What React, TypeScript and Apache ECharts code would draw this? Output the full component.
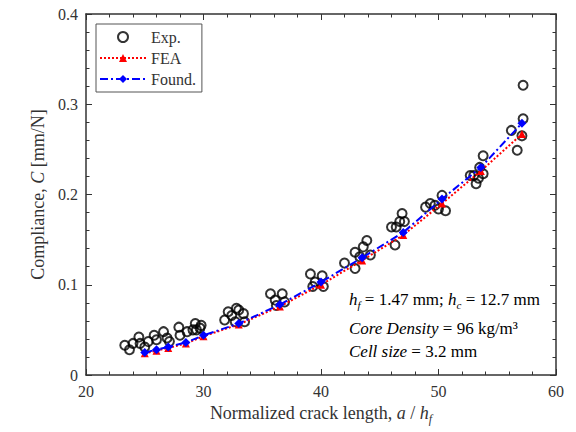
import React, { useEffect, useRef } from "react";
import * as echarts from "echarts";

// Experimental data: normalized crack length a/hf and compliance C [mm/N]
const expA = [
  23.3, 23.7, 24.0, 24.5, 24.6, 25.0, 25.3, 25.8, 26.0, 26.6, 26.9, 27.1, 27.9, 28.0, 28.6, 29.1, 29.3, 29.7, 29.4, 29.8,
  31.8, 32.1, 32.4, 32.7, 32.8, 33.4, 33.5, 33.0,
  35.7, 36.1, 36.2, 36.7, 36.9,
  39.1, 39.3, 39.5, 40.1, 40.2,
  42.0, 42.9, 42.9, 43.3, 43.6, 43.9, 44.2,
  46.0, 46.3, 46.4, 46.7, 46.9, 47.1,
  48.9, 49.3, 49.7, 50.0, 50.3, 50.6,
  52.7, 53.0, 53.2, 53.4, 53.5, 53.8, 53.8,
  56.2, 56.7, 57.1, 57.2, 57.2,
];
const expC = [
  0.033, 0.028, 0.035, 0.042, 0.035, 0.031, 0.037, 0.044, 0.039, 0.048, 0.041, 0.037, 0.053, 0.044, 0.048, 0.05, 0.057, 0.052, 0.05, 0.055,
  0.061, 0.07, 0.066, 0.059, 0.074, 0.068, 0.059, 0.072,
  0.09, 0.083, 0.077, 0.09, 0.081,
  0.112, 0.098, 0.103, 0.11, 0.098,
  0.124, 0.118, 0.136, 0.131, 0.142, 0.149, 0.133,
  0.164, 0.144, 0.164, 0.17, 0.179, 0.17,
  0.186, 0.19, 0.188, 0.184, 0.199, 0.182,
  0.221, 0.221, 0.212, 0.218, 0.23, 0.223, 0.243,
  0.271, 0.249, 0.265, 0.284, 0.321,
];

// FEA predictions
const feaA = [25.0, 26.0, 27.0, 28.5, 30.0, 33.0, 36.5, 40.0, 43.5, 47.0, 50.3, 53.6, 57.1];
const feaC = [0.024, 0.027, 0.03, 0.035, 0.043, 0.056, 0.076, 0.1, 0.127, 0.155, 0.19, 0.226, 0.267];

// Foundation model predictions
const fndA = [25.0, 26.0, 27.0, 28.5, 30.0, 33.0, 36.5, 40.0, 43.5, 47.0, 50.3, 53.6, 57.1];
const fndC = [0.025, 0.028, 0.031, 0.036, 0.044, 0.057, 0.078, 0.103, 0.13, 0.158, 0.195, 0.23, 0.279];

const xTicks = [20, 30, 40, 50, 60];
const yTicks = [0, 0.1, 0.2, 0.3, 0.4];

const FONT = "Liberation Serif";
const AX = "#333";

export default function App() {
  const ref = useRef<HTMLDivElement>(null);
  useEffect(() => {
    if (!ref.current) return;
    const chart = echarts.init(ref.current, null, { renderer: "svg" });
    const pair = (a: number[], c: number[]) => a.map((v, i) => [v, c[i]]);

    const tickCommon = {
      axisLine: { onZero: false, lineStyle: { color: AX, width: 1.5 } },
      axisTick: { inside: true, length: 6, lineStyle: { color: AX, width: 1 } },
      minorTick: { show: true, splitNumber: 5, length: 3.5, lineStyle: { color: AX, width: 1 } },
      splitLine: { show: false },
      minorSplitLine: { show: false },
    };

    const xMin = xTicks[0], xMax = xTicks[xTicks.length - 1];
    const yMin = yTicks[0], yMax = yTicks[yTicks.length - 1];

    const normal = { fontFamily: FONT, fontSize: 18, color: AX, lineHeight: 24, verticalAlign: "middle" as const };
    const ital = { ...normal, fontStyle: "italic" as const };
    const sub = { fontFamily: FONT, fontSize: 12, color: AX, fontStyle: "italic" as const, lineHeight: 12, verticalAlign: "bottom" as const };

    const ann = { fontFamily: FONT, fontSize: 17, color: AX, lineHeight: 22, verticalAlign: "middle" as const };
    const annI = { ...ann, fontStyle: "italic" as const };
    const annS = { fontFamily: FONT, fontSize: 11, color: AX, fontStyle: "italic" as const, lineHeight: 11, verticalAlign: "bottom" as const };

    chart.setOption({
      animation: false,
      backgroundColor: "#fff",
      grid: { left: 86, right: 20, top: 14, bottom: 57, containLabel: false },
      legend: {
        orient: "vertical",
        left: 96,
        top: 24,
        itemWidth: 46,
        itemHeight: 10,
        itemGap: 5,
        padding: [5, 6, 5, 3],
        borderColor: "#555",
        borderWidth: 1,
        backgroundColor: "#fff",
        textStyle: { fontFamily: FONT, fontSize: 16, color: AX },
        data: ["Exp.", "FEA", "Found."],
      },
      xAxis: [
        {
          type: "value",
          min: xMin,
          max: xMax,
          interval: 10,
          position: "bottom",
          ...tickCommon,
          axisLabel: { fontFamily: FONT, fontSize: 16, color: AX, margin: 8 },
          name: "{n|Normalized crack length, }{i|a}{n| / }{i|h}{s|f}",
          nameLocation: "middle",
          nameGap: 25,
          nameTextStyle: { rich: { n: normal, i: ital, s: sub } },
        },
        {
          type: "value",
          min: xMin,
          max: xMax,
          interval: 10,
          position: "top",
          ...tickCommon,
          axisLabel: { show: false },
        },
      ],
      yAxis: [
        {
          type: "value",
          min: yMin,
          max: yMax,
          interval: 0.1,
          position: "left",
          ...tickCommon,
          axisLabel: { fontFamily: FONT, fontSize: 16, color: AX, margin: 8 },
          name: "{n|Compliance, }{i|C}{n| [mm/N]}",
          nameLocation: "middle",
          nameGap: 33,
          nameRotate: 90,
          nameTextStyle: { rich: { n: normal, i: ital } },
        },
        {
          type: "value",
          min: yMin,
          max: yMax,
          interval: 0.1,
          position: "right",
          ...tickCommon,
          axisLabel: { show: false },
        },
      ],
      series: [
        {
          name: "Exp.",
          type: "scatter",
          data: pair(expA, expC),
          symbol: "circle",
          symbolSize: 9,
          itemStyle: { color: "rgba(0,0,0,0)", borderColor: "#000", borderWidth: 2 },
          z: 2,
        },
        {
          name: "FEA",
          type: "line",
          data: pair(feaA, feaC),
          symbol: "triangle",
          symbolSize: 8,
          showAllSymbol: true,
          lineStyle: { color: "#ff0000", width: 2, type: [2, 2] },
          itemStyle: { color: "#ff0000" },
          z: 3,
        },
        {
          name: "Found.",
          type: "line",
          data: pair(fndA, fndC),
          symbol: "diamond",
          symbolSize: 9,
          showAllSymbol: true,
          lineStyle: { color: "#0000ff", width: 2, type: [8, 3, 2, 3] },
          itemStyle: { color: "#0000ff" },
          z: 4,
        },
      ],
      graphic: [
        {
          type: "text",
          left: 349,
          top: 291,
          style: {
            text: "{i|h}{s|f}{n| = 1.47 mm; }{i|h}{s|c}{n| = 12.7 mm}",
            rich: { n: ann, i: annI, s: annS },
          },
        },
        {
          type: "text",
          left: 349,
          top: 320,
          style: {
            text: "{i|Core Density}{n| = 96 kg/m³}",
            rich: { n: ann, i: annI },
          },
        },
        {
          type: "text",
          left: 349,
          top: 343,
          style: {
            text: "{i|Cell size}{n| = 3.2 mm}",
            rich: { n: ann, i: annI },
          },
        },
      ],
    });
    return () => chart.dispose();
  }, []);
  return <div ref={ref} style={{ position: "fixed", left: 0, top: 0, width: 576, height: 432 }} />;
}
